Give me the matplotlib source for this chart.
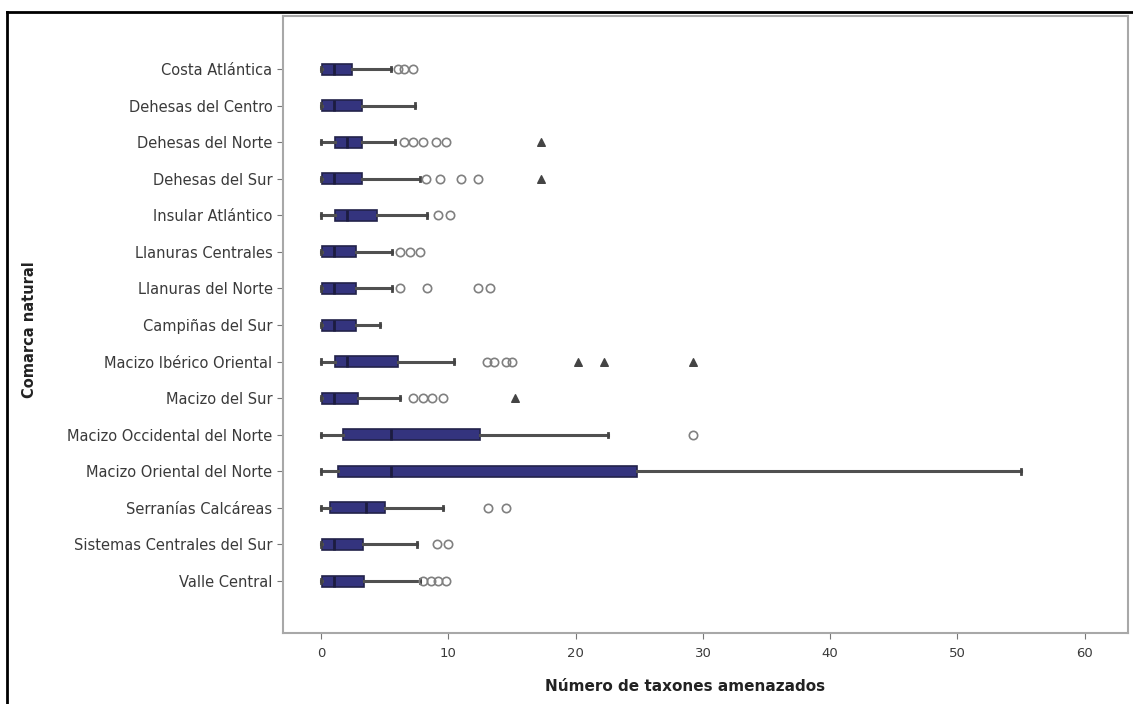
import matplotlib
matplotlib.use("Agg")
import matplotlib.pyplot as plt
from matplotlib.lines import Line2D

# threatened taxa per natural region
categories = ["Costa Atlántica", "Dehesas del Centro", "Dehesas del Norte",
              "Dehesas del Sur", "Insular Atlántico", "Llanuras Centrales",
              "Llanuras del Norte", "Campiñas del Sur", "Macizo Ibérico Oriental",
              "Macizo del Sur", "Macizo Occidental del Norte",
              "Macizo Oriental del Norte", "Serranías Calcáreas",
              "Sistemas Centrales del Sur", "Valle Central"]
whislo = [0, 0, 0, 0, 0, 0, 0, 0, 0, 0, 0, 0, 0, 0, 0]
q1 = [0.1, 0.1, 1.1, 0.1, 1.1, 0.1, 0.1, 0.1, 1.1, 0.1, 1.7, 1.3, 0.7, 0.1, 0.1]
med = [1, 1, 2, 1, 2, 1, 1, 1, 2, 1, 5.5, 5.5, 3.5, 1, 1]
q3 = [2.4, 3.2, 3.2, 3.2, 4.4, 2.7, 2.7, 2.7, 6.0, 2.9, 12.5, 24.8, 5.0, 3.3, 3.4]
whishi = [5.5, 7.4, 5.8, 7.8, 8.3, 5.6, 5.6, 4.6, 10.4, 6.2, 22.5, 55, 9.6, 7.5, 7.8]
outliers = [[6, 6.5, 7.2], [], [6.5, 7.2, 8, 9, 9.8], [8.2, 9.3, 11, 12.3],
            [9.2, 10.1], [6.2, 7, 7.8], [6.2, 8.3, 12.3, 13.3], [],
            [13, 13.6, 14.5, 15], [7.2, 8, 8.7, 9.6], [29.2], [],
            [13.1, 14.5], [9.1, 10], [8, 8.6, 9.2, 9.8]]
extremes = [[], [], [17.3], [17.3], [], [], [], [],
            [20.2, 22.2, 29.2], [15.2], [], [], [], [], []]

stats = []
for i in range(len(categories)):
    stats.append(dict(label=categories[i], whislo=whislo[i], q1=q1[i],
                      med=med[i], q3=q3[i], whishi=whishi[i],
                      fliers=outliers[i]))

fig = plt.figure(figsize=(11.33, 7.04), dpi=100)
ax = fig.add_axes([283/1133, 1 - 633/704, (1128 - 283)/1133, (633 - 16)/704])

pos = list(range(len(categories)))
ax.bxp(stats, positions=pos, vert=False, widths=0.3, patch_artist=True,
       boxprops=dict(facecolor="#34347e", edgecolor="#22224a", linewidth=1.2),
       medianprops=dict(color="#1c1c40", linewidth=2),
       whiskerprops=dict(color="#505050", linewidth=2.2),
       capprops=dict(color="#444444", linewidth=2),
       capwidths=0.12,
       flierprops=dict(marker="o", markerfacecolor="none",
                       markeredgecolor="#808080", markersize=6,
                       markeredgewidth=1.2))

for i, ex in enumerate(extremes):
    if ex:
        ax.scatter(ex, [pos[i]] * len(ex), marker="^", s=30, color="#444444",
                   zorder=3)

ax.set_xlim(-3, 63.4)
ax.set_ylim(len(categories) - 1 + 1.42, -1.45)
ax.set_xticks([0, 10, 20, 30, 40, 50, 60])
ax.set_yticks(pos)
ax.set_yticklabels(categories)
ax.tick_params(axis="y", labelsize=10.5, labelcolor="#3a3a3a",
               color="#777777", length=4)
ax.tick_params(axis="x", labelsize=9.5, labelcolor="#3a3a3a",
               color="#777777", length=4, pad=6)
for s in ax.spines.values():
    s.set_color("#a8a8a8")
    s.set_linewidth(1.5)
ax.set_facecolor("white")

ax.set_xlabel("Número de taxones amenazados", fontsize=11,
              fontweight="bold", color="#222222")
ax.xaxis.set_label_coords((685 - 283) / (1128 - 283), -0.075)
fig.text(30/1133, 1 - 330/704, "Comarca natural", rotation=90,
         fontsize=10.5, fontweight="bold", color="#222222",
         ha="center", va="center")

# black border around the figure (top and left edges visible)
fig.add_artist(Line2D([7/1133, 1.0], [1 - 12/704, 1 - 12/704],
                      transform=fig.transFigure, color="black", linewidth=2))
fig.add_artist(Line2D([7/1133, 7/1133], [0, 1 - 12/704],
                      transform=fig.transFigure, color="black", linewidth=2))

fig.savefig("out.png", dpi=100)
